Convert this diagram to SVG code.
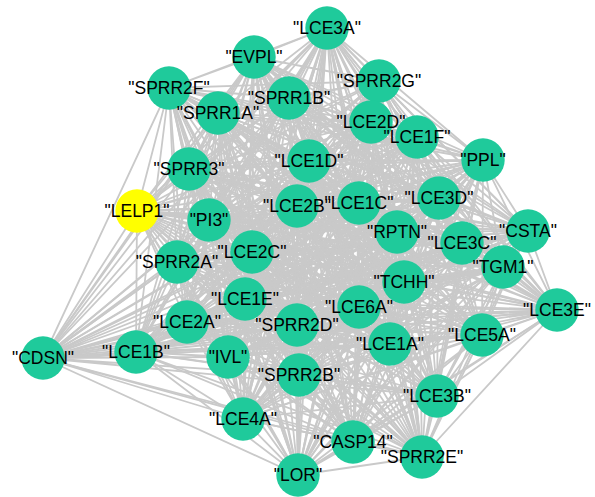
<svg xmlns="http://www.w3.org/2000/svg" width="595" height="497" viewBox="0 0 595 497">
<style>
  .e { fill: none; stroke: #c9c9c9; stroke-width: 1.8; stroke-linejoin: round; }
  .n circle { fill: #1fca9b; }
  .n.hl circle { fill: #ffff00; }
  .n text { font-family: "Liberation Sans", Arial, sans-serif; font-size: 17.5px; fill: #000; text-anchor: middle; }
</style>
<rect width="595" height="497" fill="#ffffff"/>
<!-- complete interaction network, drawn as 19 closed Hamiltonian tours through LOR -->
<g id="edges">
<polygon class="e" points="298,475 327,28 254,57 422,457 169,88 353,442 379,81 243,419 289,98 437,396 218,113 299,375 371,122 390,344 417,137 228,357 483,160 136,352 309,161 43,358 189,169 482,335 137,211 297,325 209,220 187,322 297,206 359,307 359,203 557,310 439,198 245,299 397,232 404,282 462,243 252,252 528,231 177,262 503,267"/>
<polygon class="e" points="298,475 254,57 169,88 327,28 379,81 422,457 289,98 353,442 218,113 243,419 371,122 437,396 417,137 299,375 483,160 390,344 309,161 228,357 189,169 136,352 137,211 43,358 209,220 482,335 297,206 297,325 359,203 187,322 439,198 359,307 397,232 557,310 462,243 245,299 528,231 404,282 503,267 252,252 177,262"/>
<polygon class="e" points="298,475 169,88 379,81 254,57 289,98 327,28 218,113 422,457 371,122 353,442 417,137 243,419 483,160 437,396 309,161 299,375 189,169 390,344 137,211 228,357 209,220 136,352 297,206 43,358 359,203 482,335 439,198 297,325 397,232 187,322 462,243 359,307 528,231 557,310 503,267 245,299 177,262 404,282 252,252"/>
<polygon class="e" points="298,475 379,81 289,98 169,88 218,113 254,57 371,122 327,28 417,137 422,457 483,160 353,442 309,161 243,419 189,169 437,396 137,211 299,375 209,220 390,344 297,206 228,357 359,203 136,352 439,198 43,358 397,232 482,335 462,243 297,325 528,231 187,322 503,267 359,307 177,262 557,310 252,252 245,299 404,282"/>
<polygon class="e" points="298,475 289,98 218,113 379,81 371,122 169,88 417,137 254,57 483,160 327,28 309,161 422,457 189,169 353,442 137,211 243,419 209,220 437,396 297,206 299,375 359,203 390,344 439,198 228,357 397,232 136,352 462,243 43,358 528,231 482,335 503,267 297,325 177,262 187,322 252,252 359,307 404,282 557,310 245,299"/>
<polygon class="e" points="298,475 218,113 371,122 289,98 417,137 379,81 483,160 169,88 309,161 254,57 189,169 327,28 137,211 422,457 209,220 353,442 297,206 243,419 359,203 437,396 439,198 299,375 397,232 390,344 462,243 228,357 528,231 136,352 503,267 43,358 177,262 482,335 252,252 297,325 404,282 187,322 245,299 359,307 557,310"/>
<polygon class="e" points="298,475 371,122 417,137 218,113 483,160 289,98 309,161 379,81 189,169 169,88 137,211 254,57 209,220 327,28 297,206 422,457 359,203 353,442 439,198 243,419 397,232 437,396 462,243 299,375 528,231 390,344 503,267 228,357 177,262 136,352 252,252 43,358 404,282 482,335 245,299 297,325 557,310 187,322 359,307"/>
<polygon class="e" points="298,475 417,137 483,160 371,122 309,161 218,113 189,169 289,98 137,211 379,81 209,220 169,88 297,206 254,57 359,203 327,28 439,198 422,457 397,232 353,442 462,243 243,419 528,231 437,396 503,267 299,375 177,262 390,344 252,252 228,357 404,282 136,352 245,299 43,358 557,310 482,335 359,307 297,325 187,322"/>
<polygon class="e" points="298,475 483,160 309,161 417,137 189,169 371,122 137,211 218,113 209,220 289,98 297,206 379,81 359,203 169,88 439,198 254,57 397,232 327,28 462,243 422,457 528,231 353,442 503,267 243,419 177,262 437,396 252,252 299,375 404,282 390,344 245,299 228,357 557,310 136,352 359,307 43,358 187,322 482,335 297,325"/>
<polygon class="e" points="298,475 309,161 189,169 483,160 137,211 417,137 209,220 371,122 297,206 218,113 359,203 289,98 439,198 379,81 397,232 169,88 462,243 254,57 528,231 327,28 503,267 422,457 177,262 353,442 252,252 243,419 404,282 437,396 245,299 299,375 557,310 390,344 359,307 228,357 187,322 136,352 297,325 43,358 482,335"/>
<polygon class="e" points="298,475 189,169 137,211 309,161 209,220 483,160 297,206 417,137 359,203 371,122 439,198 218,113 397,232 289,98 462,243 379,81 528,231 169,88 503,267 254,57 177,262 327,28 252,252 422,457 404,282 353,442 245,299 243,419 557,310 437,396 359,307 299,375 187,322 390,344 297,325 228,357 482,335 136,352 43,358"/>
<polygon class="e" points="298,475 137,211 209,220 189,169 297,206 309,161 359,203 483,160 439,198 417,137 397,232 371,122 462,243 218,113 528,231 289,98 503,267 379,81 177,262 169,88 252,252 254,57 404,282 327,28 245,299 422,457 557,310 353,442 359,307 243,419 187,322 437,396 297,325 299,375 482,335 390,344 43,358 228,357 136,352"/>
<polygon class="e" points="298,475 209,220 297,206 137,211 359,203 189,169 439,198 309,161 397,232 483,160 462,243 417,137 528,231 371,122 503,267 218,113 177,262 289,98 252,252 379,81 404,282 169,88 245,299 254,57 557,310 327,28 359,307 422,457 187,322 353,442 297,325 243,419 482,335 437,396 43,358 299,375 136,352 390,344 228,357"/>
<polygon class="e" points="298,475 297,206 359,203 209,220 439,198 137,211 397,232 189,169 462,243 309,161 528,231 483,160 503,267 417,137 177,262 371,122 252,252 218,113 404,282 289,98 245,299 379,81 557,310 169,88 359,307 254,57 187,322 327,28 297,325 422,457 482,335 353,442 43,358 243,419 136,352 437,396 228,357 299,375 390,344"/>
<polygon class="e" points="298,475 359,203 439,198 297,206 397,232 209,220 462,243 137,211 528,231 189,169 503,267 309,161 177,262 483,160 252,252 417,137 404,282 371,122 245,299 218,113 557,310 289,98 359,307 379,81 187,322 169,88 297,325 254,57 482,335 327,28 43,358 422,457 136,352 353,442 228,357 243,419 390,344 437,396 299,375"/>
<polygon class="e" points="298,475 439,198 397,232 359,203 462,243 297,206 528,231 209,220 503,267 137,211 177,262 189,169 252,252 309,161 404,282 483,160 245,299 417,137 557,310 371,122 359,307 218,113 187,322 289,98 297,325 379,81 482,335 169,88 43,358 254,57 136,352 327,28 228,357 422,457 390,344 353,442 299,375 243,419 437,396"/>
<polygon class="e" points="298,475 397,232 462,243 439,198 528,231 359,203 503,267 297,206 177,262 209,220 252,252 137,211 404,282 189,169 245,299 309,161 557,310 483,160 359,307 417,137 187,322 371,122 297,325 218,113 482,335 289,98 43,358 379,81 136,352 169,88 228,357 254,57 390,344 327,28 299,375 422,457 437,396 353,442 243,419"/>
<polygon class="e" points="298,475 462,243 528,231 397,232 503,267 439,198 177,262 359,203 252,252 297,206 404,282 209,220 245,299 137,211 557,310 189,169 359,307 309,161 187,322 483,160 297,325 417,137 482,335 371,122 43,358 218,113 136,352 289,98 228,357 379,81 390,344 169,88 299,375 254,57 437,396 327,28 243,419 422,457 353,442"/>
<polygon class="e" points="298,475 528,231 503,267 462,243 177,262 397,232 252,252 439,198 404,282 359,203 245,299 297,206 557,310 209,220 359,307 137,211 187,322 189,169 297,325 309,161 482,335 483,160 43,358 417,137 136,352 371,122 228,357 218,113 390,344 289,98 299,375 379,81 437,396 169,88 243,419 254,57 353,442 327,28 422,457"/>
</g>
<g id="nodes">
<g class="n" id="n-LCE3A"><circle cx="327" cy="28" r="21.7"/><text x="327" y="34">"LCE3A"</text></g>
<g class="n" id="n-EVPL"><circle cx="254" cy="57" r="21.7"/><text x="254" y="63">"EVPL"</text></g>
<g class="n" id="n-SPRR2F"><circle cx="169" cy="88" r="21.7"/><text x="169" y="94">"SPRR2F"</text></g>
<g class="n" id="n-SPRR2G"><circle cx="379" cy="81" r="21.7"/><text x="379" y="87">"SPRR2G"</text></g>
<g class="n" id="n-SPRR1B"><circle cx="289" cy="98" r="21.7"/><text x="289" y="104">"SPRR1B"</text></g>
<g class="n" id="n-SPRR1A"><circle cx="218" cy="113" r="21.7"/><text x="218" y="119">"SPRR1A"</text></g>
<g class="n" id="n-LCE2D"><circle cx="371" cy="122" r="21.7"/><text x="371" y="128">"LCE2D"</text></g>
<g class="n" id="n-LCE1F"><circle cx="417" cy="137" r="21.7"/><text x="417" y="143">"LCE1F"</text></g>
<g class="n" id="n-PPL"><circle cx="483" cy="160" r="21.7"/><text x="483" y="166">"PPL"</text></g>
<g class="n" id="n-LCE1D"><circle cx="309" cy="161" r="21.7"/><text x="309" y="167">"LCE1D"</text></g>
<g class="n" id="n-SPRR3"><circle cx="189" cy="169" r="21.7"/><text x="189" y="175">"SPRR3"</text></g>
<g class="n hl" id="n-LELP1"><circle cx="137" cy="211" r="21.7"/><text x="137" y="217">"LELP1"</text></g>
<g class="n" id="n-PI3"><circle cx="209" cy="220" r="21.7"/><text x="209" y="226">"PI3"</text></g>
<g class="n" id="n-LCE2B"><circle cx="297" cy="206" r="21.7"/><text x="297" y="212">"LCE2B"</text></g>
<g class="n" id="n-LCE1C"><circle cx="359" cy="203" r="21.7"/><text x="359" y="209">"LCE1C"</text></g>
<g class="n" id="n-LCE3D"><circle cx="439" cy="198" r="21.7"/><text x="439" y="204">"LCE3D"</text></g>
<g class="n" id="n-RPTN"><circle cx="397" cy="232" r="21.7"/><text x="397" y="238">"RPTN"</text></g>
<g class="n" id="n-LCE3C"><circle cx="462" cy="243" r="21.7"/><text x="462" y="249">"LCE3C"</text></g>
<g class="n" id="n-CSTA"><circle cx="528" cy="231" r="21.7"/><text x="528" y="237">"CSTA"</text></g>
<g class="n" id="n-TGM1"><circle cx="503" cy="267" r="21.7"/><text x="503" y="273">"TGM1"</text></g>
<g class="n" id="n-SPRR2A"><circle cx="177" cy="262" r="21.7"/><text x="177" y="268">"SPRR2A"</text></g>
<g class="n" id="n-LCE2C"><circle cx="252" cy="252" r="21.7"/><text x="252" y="258">"LCE2C"</text></g>
<g class="n" id="n-TCHH"><circle cx="404" cy="282" r="21.7"/><text x="404" y="288">"TCHH"</text></g>
<g class="n" id="n-LCE1E"><circle cx="245" cy="299" r="21.7"/><text x="245" y="305">"LCE1E"</text></g>
<g class="n" id="n-LCE3E"><circle cx="557" cy="310" r="21.7"/><text x="557" y="316">"LCE3E"</text></g>
<g class="n" id="n-LCE6A"><circle cx="359" cy="307" r="21.7"/><text x="359" y="313">"LCE6A"</text></g>
<g class="n" id="n-LCE2A"><circle cx="187" cy="322" r="21.7"/><text x="187" y="328">"LCE2A"</text></g>
<g class="n" id="n-SPRR2D"><circle cx="297" cy="325" r="21.7"/><text x="297" y="331">"SPRR2D"</text></g>
<g class="n" id="n-LCE5A"><circle cx="482" cy="335" r="21.7"/><text x="482" y="341">"LCE5A"</text></g>
<g class="n" id="n-CDSN"><circle cx="43" cy="358" r="21.7"/><text x="43" y="364">"CDSN"</text></g>
<g class="n" id="n-LCE1B"><circle cx="136" cy="352" r="21.7"/><text x="136" y="358">"LCE1B"</text></g>
<g class="n" id="n-IVL"><circle cx="228" cy="357" r="21.7"/><text x="228" y="363">"IVL"</text></g>
<g class="n" id="n-LCE1A"><circle cx="390" cy="344" r="21.7"/><text x="390" y="350">"LCE1A"</text></g>
<g class="n" id="n-SPRR2B"><circle cx="299" cy="375" r="21.7"/><text x="299" y="381">"SPRR2B"</text></g>
<g class="n" id="n-LCE3B"><circle cx="437" cy="396" r="21.7"/><text x="437" y="402">"LCE3B"</text></g>
<g class="n" id="n-LCE4A"><circle cx="243" cy="419" r="21.7"/><text x="243" y="425">"LCE4A"</text></g>
<g class="n" id="n-CASP14"><circle cx="353" cy="442" r="21.7"/><text x="353" y="448">"CASP14"</text></g>
<g class="n" id="n-SPRR2E"><circle cx="422" cy="457" r="21.7"/><text x="422" y="463">"SPRR2E"</text></g>
<g class="n" id="n-LOR"><circle cx="298" cy="475" r="21.7"/><text x="298" y="481">"LOR"</text></g>
</g>
</svg>
